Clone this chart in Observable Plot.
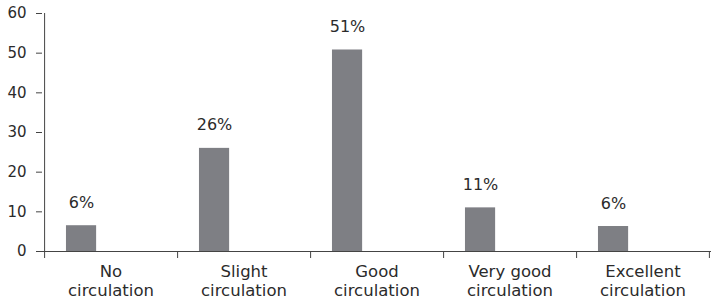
<!DOCTYPE html>
<html><head><meta charset="utf-8">
<script src="https://cdn.jsdelivr.net/npm/d3@7"></script>
<script src="https://cdn.jsdelivr.net/npm/@observablehq/plot@0.6"></script>
<style>
body{margin:0;background:#fff;}
#chart{width:711px;height:303px;}
</style></head>
<body><div id="chart"></div>
<script>
const categories = ["No\ncirculation","Slight\ncirculation","Good\ncirculation","Very good\ncirculation","Excellent\ncirculation"];
const values = [6.5, 26, 50.8, 11, 6.3];
const valueLabels = ["6%","26%","51%","11%","6%"];
const yTicks = [0,10,20,30,40,50,60];

const data = categories.map((c,i)=>({cat:c, v:values[i], label:valueLabels[i]}));
const W = 711, H = 303, mL = 42, mR = 0, mT = 13, mB = 52;
const bw = (W - mL - mR) / categories.length;
const font = "DejaVu Sans";
const txt = "#2b2b2b";
const axisCol = "#444";

const chart = Plot.plot({
  width: W, height: H,
  marginLeft: mL, marginRight: mR, marginTop: mT, marginBottom: mB,
  style: {fontFamily: font, fontSize: "15px", color: txt, background: "#fff"},
  x: {domain: categories, padding: 0, axis: null, label: null},
  y: {type: "linear", domain: [0,60], axis: null, label: null},
  marks: [
    Plot.rectY(data, {x:"cat", y:"v", fill:"#7e7f84", insetLeft: bw*22/134, insetRight: bw*81/134}),
    Plot.text(data, {x:"cat", y:"v", text:"label", dx: -bw*29.5/134, dy:-23, fontSize:16, fill:txt}),
    Plot.axisY({ticks: yTicks, tickSize: 6, tickPadding: 10, stroke: axisCol, fontSize: 15, fill: txt, label: null}),
    Plot.ruleX([categories[0]], {x: d=>d, dx: -bw/2 + 0.5, y1: 0, y2: 60, stroke: axisCol}),
    Plot.ruleY([0], {stroke: axisCol}),
    Plot.ruleX(categories, {x: d=>d, dx: -bw/2 + 0.5, y1: 0, y2: 0, insetBottom: -7, stroke: axisCol}),
    Plot.ruleX([categories[categories.length-1]], {x: d=>d, dx: bw/2 - 0.5, y1: 0, y2: 0, insetBottom: -7, stroke: axisCol}),
    Plot.axisX({tickSize: 0, tickPadding: 13, fontSize: 16.5, fill: txt, lineHeight: 1.1, label: null})
  ]
});
document.getElementById("chart").appendChild(chart);
</script></body></html>
